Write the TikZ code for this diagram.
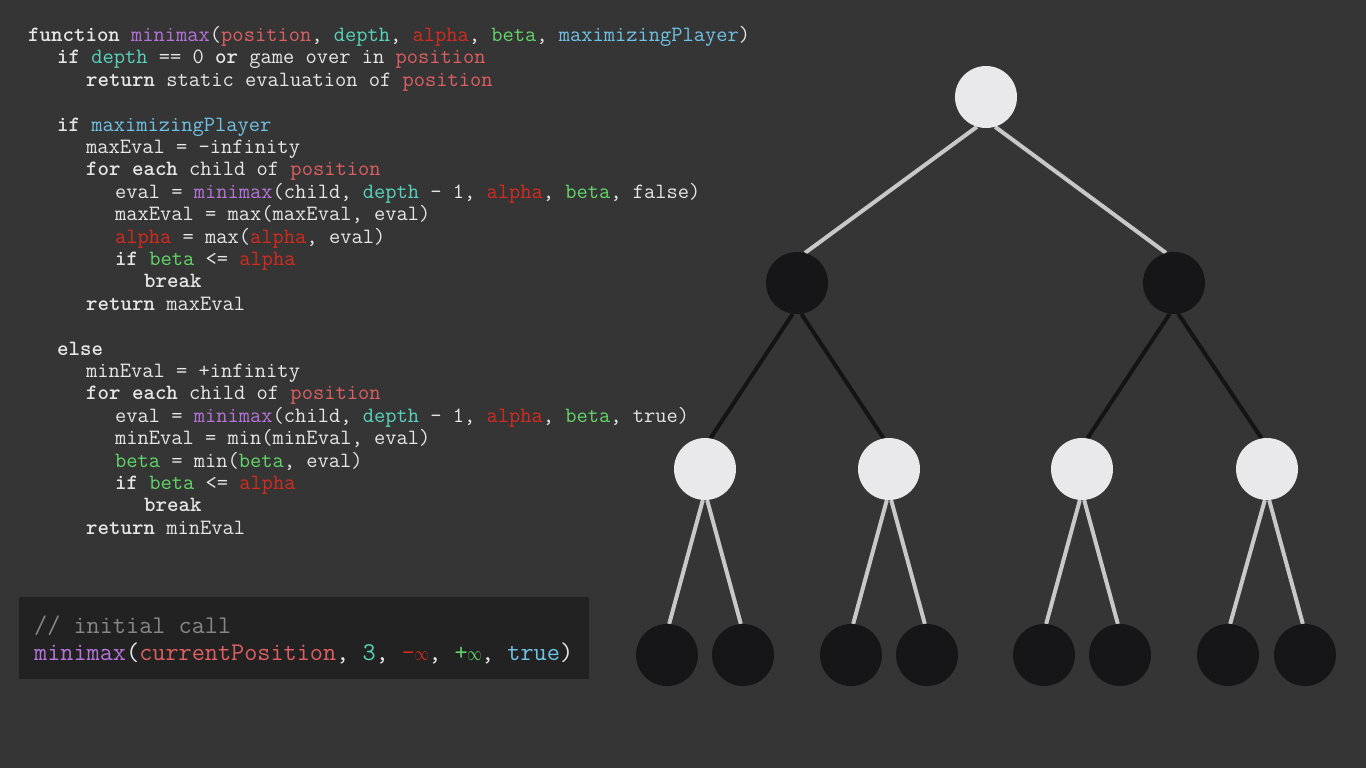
\documentclass[tikz,border=0pt]{standalone}
\usepackage{fontspec}
\usepackage{tikz}
\definecolor{mybgcolor}{HTML}{353535}
\definecolor{myboxcolor}{HTML}{222222}
\definecolor{mymaxcolor}{HTML}{E9E9EB}
\definecolor{mymincolor}{HTML}{161618}
\definecolor{mylightedge}{HTML}{C8C8C8}
\definecolor{mydarkedge}{HTML}{141414}
\definecolor{mytextcolor}{HTML}{E6E6E6}
\definecolor{myfncolor}{HTML}{B574D8}
\definecolor{myposcolor}{HTML}{DE5F62}
\definecolor{mydepcolor}{HTML}{58D4BC}
\definecolor{myalpcolor}{HTML}{D52B1E}
\definecolor{mybetcolor}{HTML}{63D66A}
\definecolor{mympcolor}{HTML}{70C2E6}
\definecolor{mycomcolor}{HTML}{868686}
\newcommand{\cKw}[1]{{\bfseries #1}}
\newcommand{\cFn}[1]{\textcolor{myfncolor}{#1}}
\newcommand{\cPos}[1]{\textcolor{myposcolor}{#1}}
\newcommand{\cDep}[1]{\textcolor{mydepcolor}{#1}}
\newcommand{\cAlp}[1]{\textcolor{myalpcolor}{#1}}
\newcommand{\cBet}[1]{\textcolor{mybetcolor}{#1}}
\newcommand{\cMp}[1]{\textcolor{mympcolor}{#1}}
\newcommand{\cInf}{\makebox[0.525em]{\scalebox{1}[1.4]{\fontsize{14pt}{14pt}\selectfont$\infty$}}}
\pgfdeclarelayer{edgelayer}
\pgfsetlayers{edgelayer,main}
\tikzset{
  codeline/.style={anchor=base west, inner sep=0pt, text=mytextcolor, font=\ttfamily\fontsize{21.85pt}{21.85pt}\selectfont},
  callline/.style={codeline, font=\ttfamily\fontsize{25.5pt}{25.5pt}\selectfont},
  maxnode/.style={circle, fill=mymaxcolor, minimum size=62pt, inner sep=0pt},
  minnode/.style={circle, fill=mymincolor, minimum size=62pt, inner sep=0pt},
  lightedge/.style={draw=mylightedge, line width=4pt},
  darkedge/.style={draw=mydarkedge, line width=4pt}
}

\begin{document}
\begin{tikzpicture}[x=1pt, y=-1pt]%
\useasboundingbox (0, 0) rectangle (1366, 768);%
\begin{pgfonlayer}{edgelayer}%
\fill[mybgcolor] (0, 0) rectangle (1366, 768);%
\end{pgfonlayer}%
% pseudocode
\node[codeline] (line1) at (28, 41.5) {\cKw{function} \cFn{minimax}(\cPos{position}, \cDep{depth}, \cAlp{alpha}, \cBet{beta}, \cMp{maximizingPlayer})};%
\node[codeline] (line2) at (57, 63.9) {\cKw{if} \cDep{depth} == 0 \cKw{or} game over in \cPos{position}};%
\node[codeline] (line3) at (86, 86.3) {\cKw{return} static evaluation of \cPos{position}};%
\node[codeline] (line4) at (57, 131.1) {\cKw{if} \cMp{maximizingPlayer}};%
\node[codeline] (line5) at (86, 153.5) {maxEval = -infinity};%
\node[codeline] (line6) at (86, 175.9) {\cKw{for each} child of \cPos{position}};%
\node[codeline] (line7) at (115, 198.3) {eval = \cFn{minimax}(child, \cDep{depth} - 1, \cAlp{alpha}, \cBet{beta}, false)};%
\node[codeline] (line8) at (115, 220.7) {maxEval = max(maxEval, eval)};%
\node[codeline] (line9) at (115, 243.1) {\cAlp{alpha} = max(\cAlp{alpha}, eval)};%
\node[codeline] (line10) at (115, 265.5) {\cKw{if} \cBet{beta} <= \cAlp{alpha}};%
\node[codeline] (line11) at (144, 287.9) {\cKw{break}};%
\node[codeline] (line12) at (86, 310.3) {\cKw{return} maxEval};%
\node[codeline] (line13) at (57, 355.1) {\cKw{else}};%
\node[codeline] (line14) at (86, 377.5) {minEval = +infinity};%
\node[codeline] (line15) at (86, 399.9) {\cKw{for each} child of \cPos{position}};%
\node[codeline] (line16) at (115, 422.3) {eval = \cFn{minimax}(child, \cDep{depth} - 1, \cAlp{alpha}, \cBet{beta}, true)};%
\node[codeline] (line17) at (115, 444.7) {minEval = min(minEval, eval)};%
\node[codeline] (line18) at (115, 467.1) {\cBet{beta} = min(\cBet{beta}, eval)};%
\node[codeline] (line19) at (115, 489.5) {\cKw{if} \cBet{beta} <= \cAlp{alpha}};%
\node[codeline] (line20) at (144, 511.9) {\cKw{break}};%
\node[codeline] (line21) at (86, 534.3) {\cKw{return} minEval};%
% initial call box
\fill[myboxcolor] (19, 597) rectangle (589, 679);%
\node[callline, text=mycomcolor] (comment) at (34, 633) {// initial call};%
\node[callline] (call) at (34, 660) {\cFn{minimax}(\cPos{currentPosition}, \cDep{3}, \textcolor{myalpcolor}{-\cInf}, \textcolor{mybetcolor}{+\cInf}, \cMp{true})};%
% tree
\node[maxnode] (root) at (986, 97) {};%
\node[minnode] (minL) at (797, 283) {};%
\node[minnode] (minR) at (1174, 283) {};%
\node[maxnode] (maxLL) at (705, 469) {};%
\node[maxnode] (maxLR) at (889, 469) {};%
\node[maxnode] (maxRL) at (1082, 469) {};%
\node[maxnode] (maxRR) at (1267, 469) {};%
\node[minnode] (leaf1) at (667, 655) {};%
\node[minnode] (leaf2) at (743, 655) {};%
\node[minnode] (leaf3) at (851, 655) {};%
\node[minnode] (leaf4) at (927, 655) {};%
\node[minnode] (leaf5) at (1044, 655) {};%
\node[minnode] (leaf6) at (1120, 655) {};%
\node[minnode] (leaf7) at (1228, 655) {};%
\node[minnode] (leaf8) at (1305, 655) {};%
\begin{pgfonlayer}{edgelayer}%
\draw[lightedge] (root.253) -- (minL.75);%
\draw[lightedge] (root.287) -- (minR.105);%
\draw[darkedge] (minL.262) -- (maxLL.80);%
\draw[darkedge] (minL.278) -- (maxLR.100);%
\draw[darkedge] (minR.262) -- (maxRL.80);%
\draw[darkedge] (minR.278) -- (maxRR.100);%
\draw[lightedge] (maxLL.266) -- (leaf1.86);%
\draw[lightedge] (maxLL.274) -- (leaf2.94);%
\draw[lightedge] (maxLR.266) -- (leaf3.86);%
\draw[lightedge] (maxLR.274) -- (leaf4.94);%
\draw[lightedge] (maxRL.266) -- (leaf5.86);%
\draw[lightedge] (maxRL.274) -- (leaf6.94);%
\draw[lightedge] (maxRR.266) -- (leaf7.86);%
\draw[lightedge] (maxRR.274) -- (leaf8.94);%
\end{pgfonlayer}%
\end{tikzpicture}
\end{document}
